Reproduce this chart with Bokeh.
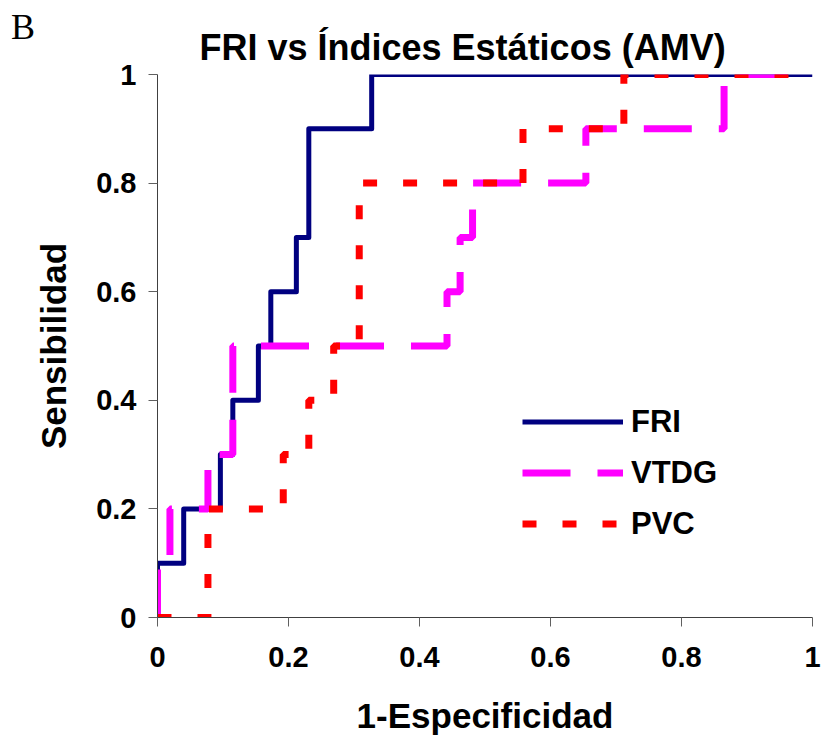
from bokeh.plotting import figure
from bokeh.layouts import column
from bokeh.models import Legend, LegendItem, FixedTicker, Range1d, Div
from bokeh.embed import file_html
from bokeh.resources import INLINE

# ROC curves: (1 - specificity, sensitivity) corner points of each step curve
fri_fpr = [0.0, 0.0, 0.040, 0.040, 0.096, 0.096, 0.115, 0.115, 0.154, 0.154,
           0.173, 0.173, 0.212, 0.212, 0.231, 0.231, 0.327, 0.327, 1.0]
fri_tpr = [0.0, 0.1, 0.1, 0.2, 0.2, 0.3, 0.3, 0.4, 0.4, 0.5,
           0.5, 0.6, 0.6, 0.7, 0.7, 0.9, 0.9, 1.0, 1.0]

vtdg_fpr = [0.0, 0.0, 0.019, 0.019, 0.077, 0.077, 0.115, 0.115, 0.442, 0.442,
            0.462, 0.462, 0.481, 0.481, 0.654, 0.654, 0.865, 0.865, 1.0]
vtdg_tpr = [0.0, 0.1, 0.1, 0.2, 0.2, 0.3, 0.3, 0.5, 0.5, 0.6,
            0.6, 0.7, 0.7, 0.8, 0.8, 0.9, 0.9, 1.0, 1.0]

pvc_fpr = [0.0, 0.077, 0.077, 0.192, 0.192, 0.231, 0.231, 0.269, 0.269, 0.308,
           0.308, 0.558, 0.558, 0.712, 0.712, 1.0]
pvc_tpr = [0.0, 0.0, 0.2, 0.2, 0.3, 0.3, 0.4, 0.4, 0.5, 0.5,
           0.8, 0.8, 0.9, 0.9, 1.0, 1.0]

series_names = ["FRI", "VTDG", "PVC"]
tick_values = [0, 0.2, 0.4, 0.6, 0.8, 1]
tick_labels = ["0", "0.2", "0.4", "0.6", "0.8", "1"]

FONT = "Liberation Sans"

p = figure(
    frame_width=655, frame_height=543,
    x_range=Range1d(0, 1), y_range=Range1d(0, 1),
    output_backend="svg", toolbar_location=None,
    min_border_left=157, min_border_right=10,
    min_border_top=74, min_border_bottom=123,
    title="FRI vs Índices Estáticos (AMV)",
)
p.background_fill_color = "white"
p.border_fill_alpha = 0
p.outline_line_color = None
p.xgrid.visible = False
p.ygrid.visible = False

p.title.text_font = FONT
p.title.text_font_size = "36px"
p.title.text_font_style = "bold"
p.title.text_color = "black"
p.title.align = "left"
p.title.offset = 42
p.title.standoff = 13

for ax in (p.xaxis[0], p.yaxis[0]):
    ax.ticker = FixedTicker(ticks=tick_values)
    ax.major_label_overrides = {v: s for v, s in zip(tick_values, tick_labels)}
    ax.major_label_text_font = FONT
    ax.major_label_text_font_size = "29px"
    ax.major_label_text_font_style = "bold"
    ax.major_label_text_color = "black"
    ax.axis_label_text_font = FONT
    ax.axis_label_text_font_size = "35px"
    ax.axis_label_text_font_style = "bold"
    ax.axis_label_text_color = "black"
    ax.axis_line_color = "#404040"
    ax.axis_line_width = 1
    ax.major_tick_line_color = "#606060"
    ax.major_tick_in = 0
    ax.major_tick_out = 9
    ax.minor_tick_line_color = None

p.xaxis.axis_label = "1-Especificidad"
p.yaxis.axis_label = "Sensibilidad"
p.xaxis.major_label_standoff = 20
p.xaxis.axis_label_standoff = 26
p.yaxis.major_label_standoff = 12
p.yaxis.axis_label_standoff = 20
p.yaxis.major_label_orientation = "horizontal"

r_fri = p.line(fri_fpr, fri_tpr, line_color="#000080", line_width=5,
               line_join="round")
r_vtdg = p.line(vtdg_fpr, vtdg_tpr, line_color="#FF00FF", line_width=7,
                line_dash="48 27")
r_pvc = p.line(pvc_fpr, pvc_tpr, line_color="#FF0000", line_width=7,
               line_dash="14 26")

legend = Legend(
    items=[LegendItem(label=n, renderers=[r]) for n, r in
           zip(series_names, [r_fri, r_vtdg, r_pvc])],
    location=(365, 68),
    orientation="vertical",
    glyph_width=101, glyph_height=51, label_height=51,
    label_standoff=8, spacing=0, padding=0, margin=0,
    border_line_color=None, background_fill_alpha=0,
    label_text_font=FONT, label_text_font_size="31px",
    label_text_font_style="bold", label_text_color="black",
)
p.add_layout(legend, "center")

# panel letter, pulled up over the top-left corner of the plot canvas
panel_letter = Div(
    text="B", width=60, height=1, margin=(-731, 0, 0, 11),
    styles={"font-family": "Liberation Serif", "font-size": "36px",
            "line-height": "1", "overflow": "visible", "color": "black"},
)

layout = column(p, panel_letter, spacing=0)
open("out.html", "w").write(file_html(layout, INLINE))
